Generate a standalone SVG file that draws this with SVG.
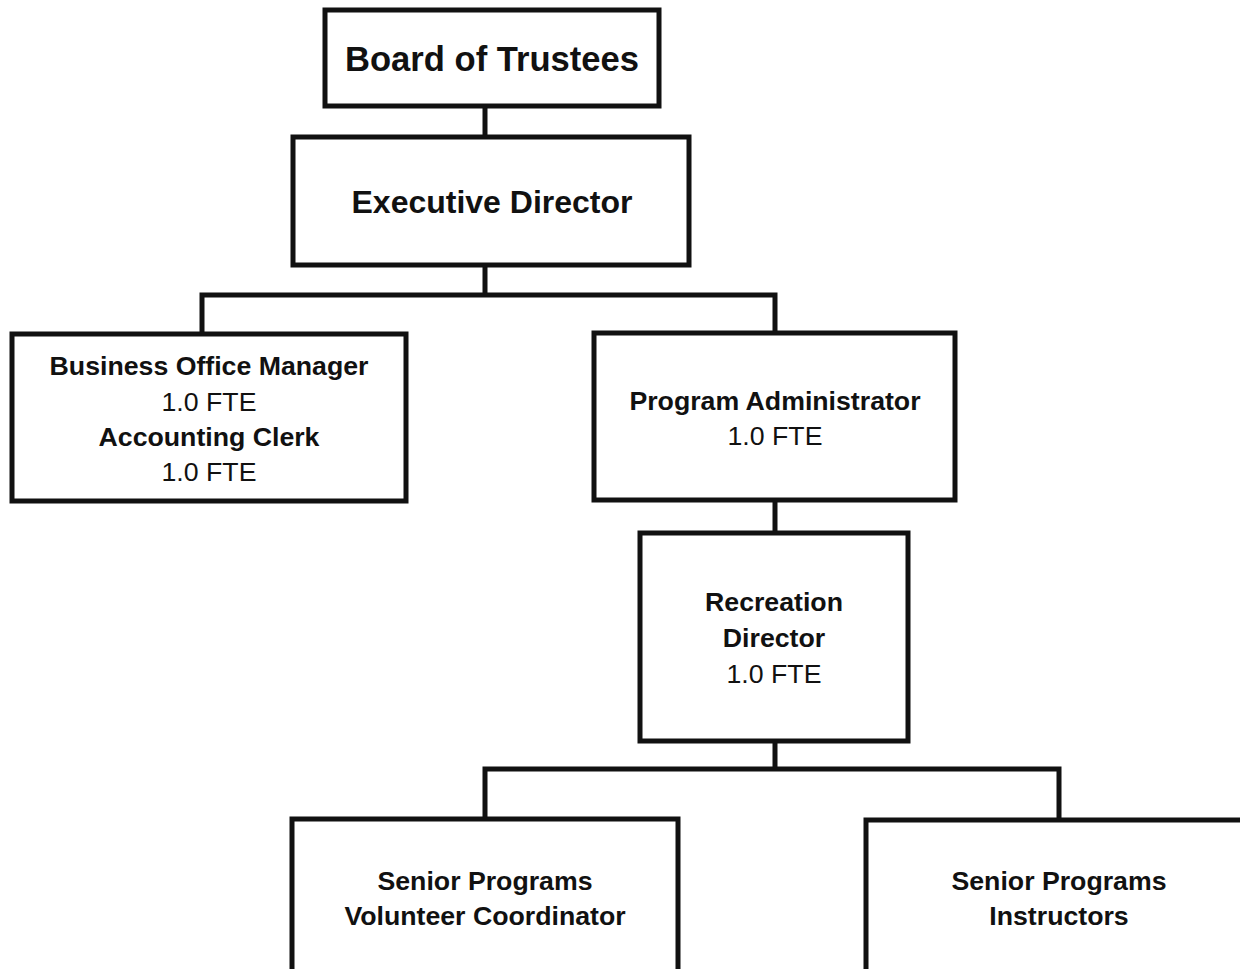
<svg xmlns="http://www.w3.org/2000/svg" width="1240" height="969" viewBox="0 0 1240 969">
  <style>
    .box { fill: #ffffff; stroke: #111111; stroke-width: 5; }
    .wire { fill: none; stroke: #111111; stroke-width: 5; stroke-linejoin: miter; stroke-linecap: square; }
    text { font-family: "Liberation Sans", Arial, sans-serif; fill: #111111; text-anchor: middle; }
    .b { font-weight: bold; font-size: 26.7px; }
    .n { font-weight: normal; font-size: 26.7px; }
    .big { font-weight: bold; }
  </style>
  <rect width="1240" height="969" fill="#ffffff"/>

  <!-- reporting lines -->
  <g id="connectors">
    <path class="wire" d="M485 106 V137"/>
    <path class="wire" d="M485 265 V295 M202 295 H775 M202 295 V334 M775 295 V333"/>
    <path class="wire" d="M775 500 V533"/>
    <path class="wire" d="M775 741 V769 M485 769 H1059 M485 769 V819 M1059 769 V820"/>
  </g>

  <g id="board">
    <rect class="box" x="325" y="10" width="334" height="96"/>
    <text class="big" x="492" y="71" font-size="34.6">Board of Trustees</text>
  </g>

  <g id="executive-director">
    <rect class="box" x="293" y="137" width="396" height="128"/>
    <text class="big" x="492" y="213" font-size="32">Executive Director</text>
  </g>

  <g id="business-office">
    <rect class="box" x="12" y="334" width="394" height="167"/>
    <text class="b" x="209" y="375">Business Office Manager</text>
    <text class="n" x="209" y="411">1.0 FTE</text>
    <text class="b" x="209" y="446">Accounting Clerk</text>
    <text class="n" x="209" y="481">1.0 FTE</text>
  </g>

  <g id="program-administrator">
    <rect class="box" x="594" y="333" width="361" height="167"/>
    <text class="b" x="775" y="410">Program Administrator</text>
    <text class="n" x="775" y="445">1.0 FTE</text>
  </g>

  <g id="recreation-director">
    <rect class="box" x="640" y="533" width="268" height="208"/>
    <text class="b" x="774" y="611">Recreation</text>
    <text class="b" x="774" y="647">Director</text>
    <text class="n" x="774" y="683">1.0 FTE</text>
  </g>

  <g id="volunteer-coordinator">
    <rect class="box" x="292" y="819" width="386" height="175"/>
    <text class="b" x="485" y="890">Senior Programs</text>
    <text class="b" x="485" y="925">Volunteer Coordinator</text>
  </g>

  <g id="instructors">
    <rect class="box" x="866" y="820" width="386" height="175"/>
    <text class="b" x="1059" y="890">Senior Programs</text>
    <text class="b" x="1059" y="925">Instructors</text>
  </g>
</svg>
